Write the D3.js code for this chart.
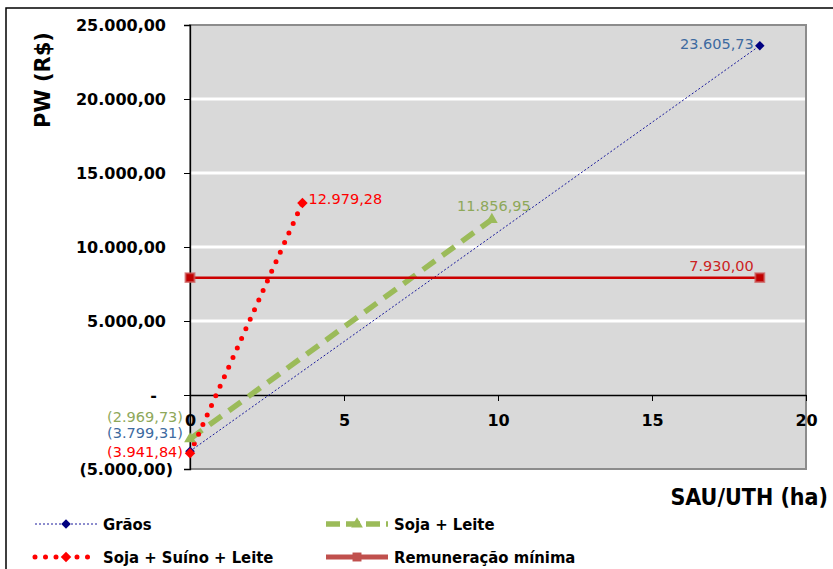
<!DOCTYPE html>
<html lang='pt'>
  <head>
    <meta charset='utf-8'>
    <style type='text/css'>
      body { margin: 0; background-color: #fff; }
      #chart { width: 833px; height: 569px; }
      svg { display: block; }
    </style>
  </head>
  <body>
    <div id='chart'><svg width='833' height='569'></svg></div>

    <script src='https://d3js.org/d3.v7.min.js'></script>
    <script type='text/javascript'>
        // ---- data ----
        var seriesNames = ["Grãos", "Soja + Leite", "Soja + Suíno + Leite", "Remuneração mínima"];
        var graosX = [0, 18.5];
        var graosY = [-3799.31, 23605.73];
        var sojaLeiteX = [0, 9.8];
        var sojaLeiteY = [-2969.73, 11856.95];
        var sojaSuinoLeiteX = [0, 3.65];
        var sojaSuinoLeiteY = [-3941.84, 12979.28];
        var remuneracaoX = [0, 18.5];
        var remuneracaoY = [7930, 7930];
        var xTicks = [0, 5, 10, 15, 20];
        var yTicks = [-5000, 0, 5000, 10000, 15000, 20000, 25000];

        var svg = d3.select("#chart svg");

        // plot area in page pixels (note: "top" is reserved on window)
        var plotL = 190, plotR = 806, plotT = 25, plotB = 469;

        var x = d3.scaleLinear().domain([0, 20]).range([plotL, plotR]);
        var y = d3.scaleLinear().domain([-5000, 25000]).range([plotB, plotT]);

        var br = d3.formatLocale({decimal: ",", thousands: ".", grouping: [3], currency: ["R$", ""]});
        var num = br.format(",.2f");
        function acct(v) {
            if (v === 0) return "-";
            return v < 0 ? "(" + num(-v) + ")" : num(v);
        }

        // outer frame
        svg.append("rect")
            .attr("x", 6).attr("y", 8).attr("width", 900).attr("height", 700)
            .attr("fill", "#fff").attr("stroke", "#000").attr("stroke-width", 1.5);

        // plot background
        svg.append("rect")
            .attr("x", plotL).attr("y", plotT)
            .attr("width", plotR - plotL).attr("height", plotB - plotT)
            .attr("fill", "#d9d9d9").attr("stroke", "#8c8c8c").attr("stroke-width", 2);

        // white gridlines
        svg.append("g").selectAll("line")
            .data(yTicks.filter(function(d) { return d !== 0 && d !== -5000 && d !== 25000; }))
            .enter().append("line")
            .attr("x1", plotL + 1).attr("x2", plotR - 1)
            .attr("y1", function(d) { return y(d); })
            .attr("y2", function(d) { return y(d); })
            .attr("stroke", "#fff").attr("stroke-width", 3);

        // y axis
        var yAxis = svg.append("g")
            .attr("transform", "translate(" + plotL + ",0)")
            .call(d3.axisLeft(y).tickValues(yTicks).tickSize(6).tickFormat(acct));
        yAxis.select(".domain").attr("stroke", "#000").attr("stroke-width", 1.3);
        yAxis.selectAll(".tick line").attr("stroke", "#000");
        yAxis.selectAll(".tick text")
            .attr("x", function(d) { return d < 0 ? -17 : (d === 0 ? -33 : -24); })
            .attr("dy", "0.35em")
            .style("font-family", "'DejaVu Sans', Verdana, sans-serif")
            .style("font-weight", "bold")
            .style("font-size", "16px")
            .attr("fill", "#000");

        // x axis at zero
        var xAxis = svg.append("g")
            .attr("transform", "translate(0," + y(0) + ")")
            .call(d3.axisBottom(x).tickValues(xTicks).tickSize(6).tickSizeOuter(0));
        xAxis.select(".domain").attr("stroke", "#000").attr("stroke-width", 1.3);
        xAxis.selectAll(".tick line").attr("stroke", "#000");
        xAxis.selectAll(".tick text")
            .attr("y", 25)
            .attr("dy", "0.35em")
            .style("font-family", "'DejaVu Sans', Verdana, sans-serif")
            .style("font-weight", "bold")
            .style("font-size", "16px")
            .attr("fill", "#000");

        // axis titles
        svg.append("text")
            .attr("transform", "translate(50,80) rotate(-90)")
            .attr("text-anchor", "middle")
            .style("font-family", "'DejaVu Sans', Verdana, sans-serif")
            .style("font-weight", "bold")
            .style("font-size", "21px")
            .text("PW (R$)");

        svg.append("text")
            .attr("x", 828).attr("y", 505)
            .attr("text-anchor", "end")
            .style("font-family", "'DejaVu Sans Condensed', 'DejaVu Sans', sans-serif")
            .style("font-stretch", "condensed")
            .style("font-weight", "bold")
            .style("font-size", "23px")
            .text("SAU/UTH (ha)");

        function pts(xs, ys) {
            return xs.map(function(d, i) { return [d, ys[i]]; });
        }
        var line = d3.line().x(function(d) { return x(d[0]); }).y(function(d) { return y(d[1]); });

        // square diamond: a square turned by 45 degrees
        var diamond = {draw: function(ctx, size) {
            var r = Math.sqrt(size / 2);
            ctx.moveTo(0, -r); ctx.lineTo(r, 0); ctx.lineTo(0, r); ctx.lineTo(-r, 0); ctx.closePath();
        }};

        var series = [
            {name: seriesNames[0], data: pts(graosX, graosY), color: "#1a1a9c", width: 1, dash: "2,2", cap: "butt",
             marker: diamond, msize: 45, mcolor: "#000080", lcolor: "#3d6aa0"},
            {name: seriesNames[1], data: pts(sojaLeiteX, sojaLeiteY), color: "#9bbb59", width: 5.5, dash: "15,9", cap: "butt",
             marker: d3.symbolTriangle, msize: 60, mcolor: "#9bbb59", lcolor: "#8ea85a"},
            {name: seriesNames[2], data: pts(sojaSuinoLeiteX, sojaSuinoLeiteY), color: "#ff0000", width: 5, dash: "0,10.5", cap: "round",
             marker: diamond, msize: 55, mcolor: "#ff0000", lcolor: "#ff0000"},
            {name: seriesNames[3], data: pts(remuneracaoX, remuneracaoY), color: "#cc0000", width: 2.5, dash: null, cap: "butt",
             marker: d3.symbolSquare, msize: 80, mcolor: "#c00000", lcolor: "#cc2222"}
        ];

        var g = svg.append("g");
        series.forEach(function(s) {
            g.append("path")
                .attr("d", line(s.data))
                .attr("fill", "none")
                .attr("stroke", s.color)
                .attr("stroke-width", s.width)
                .attr("stroke-dasharray", s.dash)
                .attr("stroke-linecap", s.cap);
        });
        series.forEach(function(s) {
            g.selectAll(null).data(s.data).enter().append("path")
                .attr("transform", function(d) { return "translate(" + x(d[0]) + "," + y(d[1]) + ")"; })
                .attr("d", d3.symbol().type(s.marker).size(s.msize))
                .attr("fill", s.mcolor)
                .attr("stroke", s.marker === d3.symbolSquare ? "rgba(205,92,92,0.7)" : "none")
                .attr("stroke-width", 2);
        });

        // data labels
        var labelFont = "'DejaVu Sans', Tahoma, sans-serif";
        function label(s, i, dx, dy, anchor) {
            var d = s.data[i];
            svg.append("text")
                .attr("x", x(d[0]) + dx).attr("y", y(d[1]) + dy)
                .attr("dy", "0.35em")
                .attr("text-anchor", anchor)
                .attr("fill", s.lcolor)
                .style("font-family", labelFont)
                .style("font-size", "14.5px")
                .text(acct(d[1]));
        }
        label(series[0], 1, -6, -2, "end");
        label(series[1], 1, 2, -14, "middle");
        label(series[2], 1, 6, -4, "start");
        label(series[3], 1, -6, -12, "end");
        label(series[1], 0, -7, -22, "end");
        label(series[0], 0, -7, -18, "end");
        label(series[2], 0, -7, -1, "end");

        // legend
        var legendPos = [[35, 524], [326, 524], [35, 557], [326, 557]];
        series.forEach(function(s, i) {
            var lx = legendPos[i][0], ly = legendPos[i][1];
            var lg = svg.append("g").attr("transform", "translate(" + lx + "," + ly + ")");
            lg.append("line")
                .attr("x1", 0).attr("x2", 62).attr("y1", 0).attr("y2", 0)
                .attr("stroke", i === 3 ? "#c0504d" : s.color)
                .attr("stroke-width", i === 3 ? 5 : (i === 1 ? 5.5 : s.width))
                .attr("stroke-dasharray", i === 1 ? "14,6" : s.dash)
                .attr("stroke-linecap", s.cap);
            lg.append("path")
                .attr("transform", "translate(31,0)")
                .attr("d", d3.symbol().type(s.marker).size(s.msize))
                .attr("fill", i === 3 ? "#c0504d" : s.mcolor);
            lg.append("text")
                .attr("x", 68).attr("y", 0).attr("dy", "0.35em")
                .style("font-family", "'DejaVu Sans Condensed', 'DejaVu Sans', sans-serif")
                .style("font-stretch", "condensed")
                .style("font-weight", "bold")
                .style("font-size", "16.5px")
                .text(s.name);
        });
    </script>
  </body>
</html>
